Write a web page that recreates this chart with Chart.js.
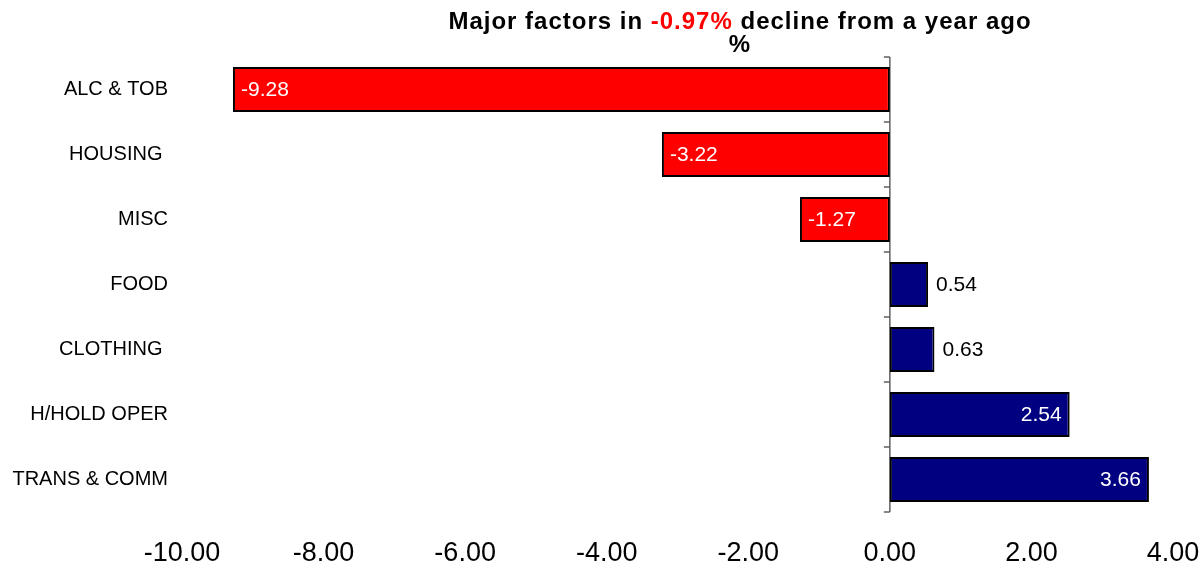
<!DOCTYPE html>
<html>
<head>
<meta charset="utf-8">
<script src="https://cdn.jsdelivr.net/npm/chart.js@4/dist/chart.umd.min.js"></script>
<style>
  body { margin: 0; background: #fff; }
  #wrap { position: relative; width: 1204px; height: 565px; }
  #title {
    position: absolute; left: 440px; top: 9px; width: 600px;
    text-align: center; font: bold 24px "Liberation Sans", Arial, sans-serif;
    line-height: 23px; letter-spacing: 1px; color: #000;
  }
  #title .red { color: #ff0000; }
</style>
</head>
<body>
<div id="wrap">
  <canvas id="factorChart"></canvas>
  <div id="title">Major factors in <span class="red">-0.97%</span> decline from a year ago<br>%</div>
</div>
<script>
const categories = ["ALC & TOB", "HOUSING ", "MISC", "FOOD", "CLOTHING ", "H/HOLD OPER", "TRANS & COMM"];
const changes = [-9.28, -3.22, -1.27, 0.54, 0.63, 2.54, 3.66];
const xMin = -10;
const xMax = 4;
const xStep = 2;

const labelFont = '21px "Liberation Sans", Arial, sans-serif';

// vertical axis drawn at zero with ticks between categories
const zeroAxis = {
  id: "zeroAxis",
  beforeDatasetsDraw(chart) {
    const { ctx, chartArea, scales } = chart;
    const x0 = scales.x.getPixelForValue(0);
    ctx.save();
    ctx.strokeStyle = "#606060";
    ctx.lineWidth = 1.5;
    ctx.beginPath();
    ctx.moveTo(x0, chartArea.top);
    ctx.lineTo(x0, chartArea.bottom);
    for (let i = 0; i <= categories.length; i++) {
      const yy = scales.y.getPixelForValue(i - 0.5);
      ctx.moveTo(x0 - 6, yy);
      ctx.lineTo(x0, yy);
    }
    ctx.stroke();
    ctx.restore();
  }
};

// value labels, inside the bar end when they fit, else outside
const barLabels = {
  id: "barLabels",
  afterDatasetsDraw(chart) {
    const { ctx } = chart;
    const meta = chart.getDatasetMeta(0);
    ctx.save();
    ctx.font = labelFont;
    ctx.textBaseline = "middle";
    meta.data.forEach((bar, i) => {
      const v = changes[i];
      const txt = v.toFixed(2);
      const w = ctx.measureText(txt).width;
      const len = Math.abs(bar.x - bar.base);
      const pad = 8;
      const inside = len > w + pad * 2;
      let tx;
      if (v < 0) {
        ctx.textAlign = inside ? "left" : "right";
        tx = inside ? bar.x + pad : bar.x - pad;
      } else {
        ctx.textAlign = inside ? "right" : "left";
        tx = inside ? bar.x - pad : bar.x + pad;
      }
      ctx.fillStyle = inside ? "#ffffff" : "#000000";
      ctx.fillText(txt, tx, bar.y + 1);
    });
    ctx.restore();
  }
};

const ctx = document.getElementById("factorChart");

new Chart(ctx, {
  type: "bar",
  data: {
    labels: categories,
    datasets: [{
      data: changes,
      backgroundColor: changes.map(v => v < 0 ? "#ff0000" : "#000080"),
      borderColor: "#000000",
      borderWidth: 2,
      borderSkipped: false,
      barPercentage: 0.69,
      categoryPercentage: 1
    }]
  },
  options: {
    indexAxis: "y",
    responsive: true,
    maintainAspectRatio: false,
    animation: false,
    layout: { padding: { top: 57, right: 31, left: 0, bottom: 0 } },
    plugins: {
      legend: { display: false },
      title: { display: false },
      tooltip: { enabled: false }
    },
    scales: {
      x: {
        min: xMin,
        max: xMax,
        grid: { display: false },
        border: { display: false },
        afterFit: s => { s.height = 53; s.paddingRight = 0; s.paddingLeft = 0; },
        ticks: {
          stepSize: xStep,
          color: "#000",
          padding: 17,
          maxRotation: 0,
          font: { family: '"Liberation Sans", Arial, sans-serif', size: 27 },
          callback: v => Number(v).toFixed(2)
        }
      },
      y: {
        grid: { display: false },
        border: { display: false },
        afterFit: s => { s.width = 182; },
        ticks: {
          color: "#000",
          padding: 6,
          font: { family: '"Liberation Sans", Arial, sans-serif', size: 20 }
        }
      }
    }
  },
  plugins: [zeroAxis, barLabels]
});
</script>
</body>
</html>
